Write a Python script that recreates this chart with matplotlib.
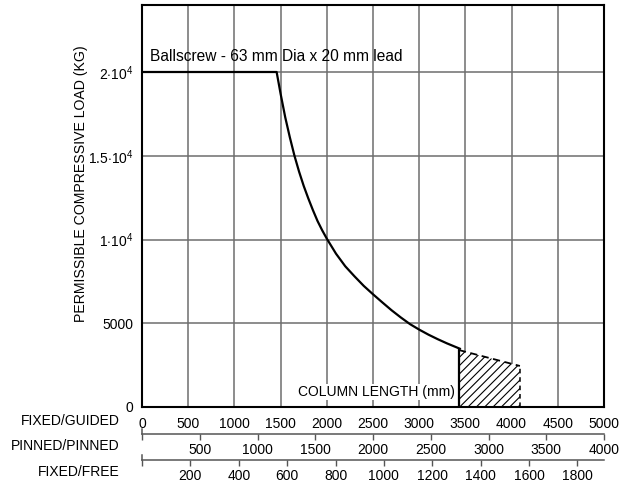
"""
Ballscrew column load chart: permissible compressive load vs column length.
"""
import matplotlib
matplotlib.use("Agg")
import matplotlib.pyplot as plt
from matplotlib.patches import Polygon

plt.rcParams['font.family'] = ['Liberation Sans', 'DejaVu Sans']
plt.rcParams['mathtext.fontset'] = 'custom'
plt.rcParams['mathtext.rm'] = 'Liberation Sans'
plt.rcParams['mathtext.it'] = 'Liberation Sans'
plt.rcParams['hatch.linewidth'] = 0.8

# curve (fixed/guided length in mm, load in kg)
length_mm = [0, 1457, 1500, 1550, 1600, 1650, 1700, 1750, 1800, 1850, 1900, 1950, 2000,
             2100, 2200, 2300, 2400, 2500, 2600, 2700, 2800, 2900, 3000, 3100, 3200,
             3300, 3440]
load_kg = [20000, 20000, 18700, 17300, 16100, 15000, 14050, 13200, 12450, 11750, 11100,
           10550, 10050, 9150, 8400, 7800, 7230, 6730, 6250, 5780, 5350, 4950, 4620,
           4320, 4050, 3800, 3480]

# dashed extension over the hatched zone
ext_length = [3430, 4090]
ext_load = [3400, 2450]

guided_ticks = [0, 500, 1000, 1500, 2000, 2500, 3000, 3500, 4000, 4500, 5000]
pinned_ticks = [500, 1000, 1500, 2000, 2500, 3000, 3500, 4000]
free_ticks = [200, 400, 600, 800, 1000, 1200, 1400, 1600, 1800]
load_ticks = [0, 5000, 10000, 15000, 20000]
load_labels = ['0', '5000', '1$\\cdot$10$^4$', '1.5$\\cdot$10$^4$', '2$\\cdot$10$^4$']

GUIDED_MAX = 5000
PINNED_MAX = 4000
FREE_MAX = 1910

W, H = 625, 484
fig = plt.figure(figsize=(W / 100, H / 100), dpi=100)

ax = fig.add_axes([142 / W, 1 - 407 / H, 462 / W, 402 / H])
ax.set_xlim(0, GUIDED_MAX)
ax.set_ylim(0, 24000)

ax.set_xticks(guided_ticks)
ax.set_yticks(load_ticks)
ax.set_yticklabels(load_labels)
ax.grid(True, color='#6e6e6e', linewidth=1.1)
ax.tick_params(axis='both', length=0, labelsize=10, colors='black')
ax.tick_params(axis='x', pad=7)
ax.tick_params(axis='y', pad=6)
for s in ax.spines.values():
    s.set_linewidth(1.5)
    s.set_color('black')

ax.plot(length_mm, load_kg, color='black', linewidth=1.6, zorder=3)
ax.plot(ext_length, ext_load, color='black', linewidth=1.3, linestyle=(0, (4, 2.5)), zorder=3)

zone = Polygon([(ext_length[0], 0), (ext_length[0], ext_load[0]),
                (ext_length[1], ext_load[1]), (ext_length[1], 0)],
               closed=True, facecolor='white', edgecolor='black', linewidth=0,
               hatch='////', zorder=2)
ax.add_patch(zone)
ax.plot([ext_length[0], ext_length[0]], [0, ext_load[0]], color='black', linewidth=1.6, zorder=3)
ax.plot([ext_length[1], ext_length[1]], [0, ext_load[1]], color='black', linewidth=1.1,
        linestyle=(0, (3, 2.5)), zorder=3)

ax.text(85, 20950, 'Ballscrew - 63 mm Dia x 20 mm lead', fontsize=11.2, va='center', ha='left')
ax.text(3390, 900, 'COLUMN LENGTH (mm)', fontsize=10, va='center', ha='right', zorder=4,
        bbox=dict(facecolor='white', edgecolor='none', pad=1))

ax.set_ylabel('PERMISSIBLE COMPRESSIVE LOAD (KG)', fontsize=10.2)
ax.yaxis.set_label_coords(-0.117, 0.555)


def scale_axis(y_px, vmax, ticks):
    sub = fig.add_axes([142 / W, 1 - y_px / H, 462 / W, 5 / H])
    sub.set_xlim(0, vmax)
    sub.set_ylim(0, 1)
    sub.patch.set_visible(False)
    for name in ['top', 'right']:
        sub.spines[name].set_visible(False)
    for name in ['bottom', 'left']:
        sub.spines[name].set_color('#555555')
        sub.spines[name].set_linewidth(1.1)
    sub.set_yticks([])
    sub.set_xticks([0] + ticks)
    sub.set_xticklabels([''] + [str(t) for t in ticks])
    sub.tick_params(axis='x', length=4.5, width=1.0, color='#555555', pad=2, labelsize=10)
    return sub


scale_axis(434, PINNED_MAX, pinned_ticks)
scale_axis(460, FREE_MAX, free_ticks)

for y_px, label in [(421, 'FIXED/GUIDED'), (446, 'PINNED/PINNED'), (472, 'FIXED/FREE')]:
    fig.text(120 / W, 1 - y_px / H, label, fontsize=10, ha='right', va='center')

fig.savefig('out.png', dpi=100)
